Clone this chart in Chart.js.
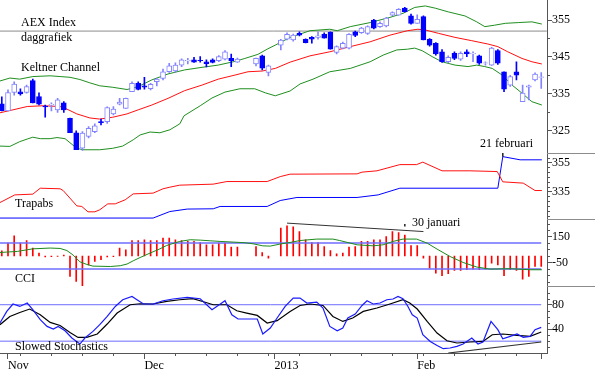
<!DOCTYPE html>
<html>
<head>
<meta charset="utf-8">
<script src="https://cdn.jsdelivr.net/npm/chart.js@4.4.0/dist/chart.umd.min.js"></script>
<style>
  html, body { margin: 0; padding: 0; background: #fff; }
  #wrap { position: relative; width: 595px; height: 372px; }
</style>
</head>
<body>
<div id="wrap"><canvas id="chart" width="595" height="372"></canvas></div>
<script>
// x = trading day index (0 = 31 Oct 2012), holidays left empty
const monthTicks = [1, 23, 44, 67, 87];
const monthLabels = ['Nov', 'Dec', '2013', 'Feb', ''];
const weekTicks = [3, 8, 13, 18, 28, 33, 38, 43, 48, 53, 58, 63, 68, 73, 78, 83];

// AEX daily candles
const openP = [332.3,330.4,335.4,335.6,335.4,338.6,334.3,331.7,332.0,330.7,
  332.6,328.4,324.5,320.3,323.5,324.8,327.5,327.5,329.6,332.2,
  331.1,335.6,337.9,337.2,336.4,338.3,339.2,341.0,341.2,342.8,
  343.9,344.2,344.1,343.7,344.2,344.0,344.4,344.6,343.6,null,
  null,343.1,345.3,340.8,null,348.2,349.8,349.6,351.4,349.8,
  350.3,350.3,351.1,351.7,346.2,347.4,347.4,351.8,351.6,351.4,
  355.0,353.2,353.4,356.3,356.3,358.2,356.1,354.1,355.9,349.8,
  348.7,346.4,343.7,346.0,344.4,346.4,345.8,345.3,343.3,342.8,
  346.7,341.0,337.4,341.0,332.9,336.8,338.8,339.5];
const highP = [334.2,336.1,338.3,336.4,337.4,339.0,335.3,332.0,332.6,333.8,
  332.9,328.5,325.0,324.8,326.2,326.9,328.2,331.5,331.6,333.8,
  333.9,338.3,338.3,339.5,337.9,339.2,341.7,343.3,343.4,344.5,
  344.6,344.9,345.1,344.2,344.5,345.4,346.7,345.8,344.7,null,
  null,344.7,345.5,342.8,null,349.8,351.5,351.2,351.8,349.9,
  350.5,351.8,351.5,351.8,348.0,349.0,351.3,352.0,353.0,353.4,
  355.2,354.5,355.7,357.2,358.1,358.4,356.6,356.4,356.1,350.0,
  348.9,347.0,345.3,346.4,346.4,346.9,346.4,345.5,343.7,347.6,
  347.0,341.0,340.0,343.7,337.4,337.4,340.7,340.8];
const lowP = [330.4,330.4,334.7,334.7,335.2,332.6,332.0,328.7,330.4,330.0,
  330.0,324.5,319.9,319.7,323.1,324.5,326.6,327.0,329.3,332.0,
  331.1,335.6,336.1,336.3,336.1,337.2,338.8,340.8,340.9,342.4,
  343.1,343.5,343.6,342.3,343.4,343.7,344.2,342.4,343.5,null,
  null,342.6,341.5,339.9,null,346.9,349.6,349.3,350.7,348.8,
  348.7,349.8,350.1,347.1,345.8,347.2,347.2,350.5,351.4,351.1,
  352.6,353.0,353.1,356.1,356.3,357.2,353.9,354.1,349.6,347.9,
  345.5,343.5,343.4,344.3,344.1,345.1,343.7,343.0,342.8,342.7,
  343.0,335.6,337.0,338.8,332.9,333.4,338.5,336.5];
const closeP = [330.5,335.4,337.7,335.0,337.0,332.6,332.2,331.5,332.2,333.4,
  330.7,324.5,319.9,324.4,325.7,326.4,327.2,331.3,330.9,332.8,
  333.8,337.9,336.2,336.8,337.6,339.0,341.0,342.6,342.8,344.2,
  344.1,343.6,344.0,343.2,343.5,345.1,346.4,344.0,344.4,null,
  null,344.6,342.0,342.6,null,349.6,351.1,350.9,350.9,348.9,
  349.8,350.7,350.1,347.1,347.8,348.7,351.1,350.8,352.8,353.2,
  352.8,354.1,355.5,357.0,357.9,357.2,354.1,355.2,349.6,348.2,
  345.8,343.7,344.9,344.6,346.0,345.8,346.0,343.3,343.4,347.4,
  343.3,336.3,339.7,340.1,335.2,337.2,340.4,339.6];

// Keltner channel [day, level]
const keltUpper = [[-0.3,338.5],[1.3,339.3],[2.9,339.0],[5.0,339.7],[7.8,339.9],[9.4,339.7],[11.0,339.5],
  [12.6,338.9],[14.2,338.0],[15.8,337.2],[17.9,336.8],[20.2,336.2],[22.0,337.0],[24.2,338.8],[26.8,340.4],
  [29.5,341.5],[32.3,342.2],[34.9,342.8],[37.6,343.8],[39.2,344.6],[41.3,345.7],[42.9,347.2],[44.1,348.2],
  [46.5,350.3],[49.7,352.1],[52.9,352.5],[54.1,352.1],[56.2,353.2],[59.4,354.3],[62.6,355.7],[64.7,356.8],
  [66.6,358.4],[68.3,358.8],[69.9,358.2],[72.0,357.2],[74.7,356.1],[76.6,354.5],[77.9,353.2],[79.5,353.6],
  [81.2,354.1],[83.3,354.3],[85.5,354.5],[87.1,353.9]];
const keltMiddle = [[-0.3,329.9],[1.8,330.7],[4.1,331.6],[6.6,331.8],[9.4,331.6],[10.5,330.9],[12.1,329.6],
  [14.2,328.5],[15.8,328.2],[17.9,328.7],[20.2,329.6],[22.0,330.7],[24.2,332.0],[26.8,333.8],[29.5,335.9],
  [32.3,337.4],[34.9,339.0],[37.6,340.1],[39.7,341.0],[42.0,341.2],[44.1,341.9],[46.5,343.6],[49.7,345.3],
  [52.9,346.4],[56.2,347.8],[59.4,349.1],[62.6,350.9],[65.4,352.1],[67.1,352.5],[68.3,352.3],[70.4,351.4],
  [73.1,350.3],[75.8,349.4],[78.4,348.5],[80.0,347.8],[81.6,346.4],[83.9,344.6],[85.5,343.7],[87.1,343.1]];
const keltLower = [[-0.3,320.9],[1.3,320.8],[2.9,322.1],[4.1,322.8],[5.0,323.3],[6.2,322.9],[7.8,322.9],
  [8.9,323.2],[10.2,322.9],[11.0,321.8],[12.1,320.3],[13.1,319.9],[15.8,319.9],[17.9,320.3],[19.5,320.9],
  [21.2,322.6],[22.3,323.9],[23.9,324.7],[25.5,324.5],[27.1,325.3],[28.7,326.9],[29.4,329.1],[32.0,331.8],
  [33.9,333.9],[36.0,335.5],[38.4,336.4],[40.8,336.4],[42.5,335.3],[44.1,334.5],[46.5,335.8],[48.1,337.7],
  [50.2,339.0],[52.9,341.0],[56.2,341.9],[59.4,343.7],[61.5,345.5],[63.7,346.9],[65.4,347.1],[66.6,347.4],
  [67.8,346.7],[69.4,345.1],[71.0,343.7],[73.1,342.8],[75.2,342.4],[76.6,342.8],[77.9,342.4],[79.1,341.9],
  [80.7,340.1],[82.3,337.4],[83.9,335.2],[85.5,332.9],[87.1,332.0]];
const resistance = [[-0.3,352.0],[87.9,352.0]];

// Trapabs
const trapRed = [[-0.3,327.4],[2.1,332.7],[5.0,333.2],[6.2,337.3],[9.4,336.9],[9.9,335.7],[12.1,325.1],
  [12.9,324.7],[13.9,321.0],[15.0,321.0],[15.8,322.4],[17.1,326.5],[18.3,326.5],[19.9,329.3],[21.2,333.4],
  [24.4,333.9],[26.0,336.9],[27.1,338.0],[28.7,339.4],[34.1,340.1],[36.3,341.9],[42.8,341.9],[44.9,345.3],
  [46.5,347.0],[57.3,347.2],[58.1,348.4],[60.5,349.3],[64.2,353.6],[66.9,353.6],[67.9,355.3],[71.0,349.3],
  [75.5,349.3],[79.9,348.8],[80.8,341.7],[84.1,340.8],[86.0,335.7],[87.1,335.7]];
const trapBlue = [[-0.3,316.7],[24.4,316.7],[27.1,321.2],[29.9,322.9],[34.1,323.1],[35.2,324.7],[42.8,324.7],
  [44.9,328.8],[47.6,330.9],[57.3,330.9],[60.7,332.7],[64.2,337.3],[80.0,337.3],[80.8,359.1],[83.6,356.9],
  [87.1,356.9]];
const feb21Mark = [[80.8,359.1],[80.8,361.6]];

// CCI
const cciBars = [40,99,155,99,119,61,22,-8,-5,-3,
  6,-158,-196,-229,-68,-42,-29,-8,-5,61,
  48,119,119,125,119,119,138,138,125,119,
  112,112,104,86,86,99,99,68,68,null,
  null,73,27,-16,null,215,232,225,188,125,
  104,104,73,42,17,22,68,73,112,112,
  125,125,150,188,181,160,81,81,-16,-93,
  -132,-152,-137,-111,-111,-106,-101,-106,-101,-55,
  -68,-152,-106,-111,-178,-158,-81,-81];
const cciAvg = [[-0.3,27],[2.5,35],[5.0,55],[7.8,61],[9.4,58],[10.5,42],[11.5,7],[12.6,-45],[13.7,-65],
  [14.7,-78],[17.5,-81],[19.1,-75],[20.2,-62],[21.2,-37],[22.3,-12],[23.9,22],[25.5,55],[26.6,81],[27.6,96],
  [28.7,112],[30.4,125],[32.0,122],[33.6,117],[35.2,112],[37.3,107],[39.2,102],[40.5,94],[42.1,78],[43.3,76],
  [44.9,92],[46.5,104],[48.1,119],[50.8,130],[53.4,130],[54.5,119],[57.3,86],[59.9,78],[61.5,86],[63.1,112],
  [64.7,130],[66.9,130],[68.6,99],[70.2,53],[72.3,-4],[74.4,-50],[76.6,-85],[78.7,-101],[82.0,-98],
  [85.2,-106],[87.1,-106]];
const cciTrend = [[46.0,253],[68.0,188]];
const jan30Mark = [[65.0,226],[65.0,247]];
const cciLevels = [100, -100];

// Slowed stochastics
const stochK = [[-0.3,49.9],[0.8,69.0],[1.8,81.2],[2.9,77.2],[4.1,82.8],[5.0,71.8],[6.2,55.3],[7.3,44.3],
  [8.3,40.0],[9.1,44.3],[10.2,37.2],[11.3,25.2],[12.6,15.3],[13.4,25.2],[14.7,36.1],[15.8,47.1],[17.0,60.7],
  [18.3,77.2],[19.5,88.2],[21.0,93.7],[21.8,88.2],[22.8,81.6],[24.4,81.2],[26.0,86.6],[27.6,89.4],[29.9,92.0],
  [32.0,89.9],[33.9,71.8],[34.9,78.8],[36.0,86.6],[37.1,63.5],[38.1,56.5],[41.2,56.5],[42.1,31.8],[43.3,41.6],
  [44.4,58.1],[45.7,77.2],[47.0,91.0],[48.1,91.0],[49.2,82.8],[50.8,84.4],[51.8,74.6],[52.9,44.3],[54.1,37.2],
  [55.0,41.6],[55.8,58.1],[57.0,64.7],[58.1,78.8],[58.9,86.6],[59.9,81.2],[61.0,82.8],[62.1,88.2],[63.1,89.4],
  [63.9,93.7],[64.7,89.9],[65.5,77.2],[66.2,63.5],[67.0,58.1],[67.9,30.6],[69.1,19.6],[70.2,13.0],[71.2,7.6],
  [72.3,8.7],[73.4,11.4],[74.4,15.3],[75.8,25.2],[76.8,15.3],[77.6,18.6],[78.9,52.5],[80.0,38.9],[80.8,24.0],
  [82.0,27.8],[83.1,31.8],[84.1,26.2],[85.2,27.8],[86.0,38.9],[87.0,42.6]];
const stochD = [[-0.3,47.1],[1.3,60.7],[2.9,67.3],[4.5,72.9],[6.2,63.5],[7.8,50.9],[9.4,45.9],[11.0,34.4],
  [12.3,26.2],[13.7,26.2],[15.4,31.8],[17.0,48.2],[18.6,66.3],[20.7,80.0],[22.3,81.6],[24.4,81.2],[26.6,85.4],
  [28.7,88.2],[30.8,89.9],[32.4,85.4],[34.1,80.0],[36.3,80.0],[37.9,70.1],[39.5,66.3],[41.2,62.4],[42.8,49.9],
  [44.4,53.7],[46.5,69.0],[48.1,78.8],[49.7,81.2],[51.8,78.8],[53.4,60.7],[55.0,52.5],[56.6,58.1],[58.3,69.0],
  [60.5,74.6],[62.6,81.2],[64.7,88.2],[65.8,82.8],[67.0,72.9],[68.6,52.5],[70.2,33.4],[71.8,20.7],[73.4,17.0],
  [75.5,18.6],[77.6,19.6],[79.1,30.6],[80.8,31.8],[83.1,29.5],[85.2,27.8],[87.0,35.1]];
const stochTrend = [[72.0,0.5],[87.0,18.6]];
const stochLevels = [80, 20];

// axis ticks
const priceTicks = [325, 335, 345, 355];
const trapTicks = [335, 355];
const cciTicks = [-50, 150];
const stochTicks = [40, 80];
const minorTicks = {
  x: weekTicks,
  yPrice: [330, 340, 350],
  yTrap: [318.33, 321.67, 325, 328.33, 331.67, 338.33, 341.67, 345, 348.33, 351.67, 358.33, 361.67],
  yCci: [-200, -150, -100, 0, 50, 100, 200, 250],
  yStoch: [10, 20, 30, 50, 60, 70, 90, 100]
};

const notes = [
  { text: 'AEX Index', panel: 'yPrice', dx: 21, dy: 26 },
  { text: 'daggrafiek', panel: 'yPrice', dx: 21, dy: 41 },
  { text: 'Keltner Channel', panel: 'yPrice', dx: 21, dy: 70.5 },
  { text: '21 februari', panel: 'yPrice', dx: 480, dy: 146.5 },
  { text: 'Trapabs', panel: 'yTrap', dx: 15, dy: 54.5 },
  { text: '30 januari', panel: 'yCci', dx: 412, dy: 6.5 },
  { text: 'CCI', panel: 'yCci', dx: 15, dy: 62.5 },
  { text: 'Slowed Stochastics', panel: 'yStoch', dx: 15, dy: 63.5 }
];

const SERIF = '"Liberation Serif", "DejaVu Serif", serif';
const BLUE = '#0000ff';
const LIGHT = '#8484ff';
const LEVEL = '#6c6cff';
const X_MIN = -0.29, X_MAX = 87.93;

const pts = arr => arr.map(p => ({ x: p[0], y: p[1] }));
const flat = (levels, i) => [{ x: X_MIN, y: levels[i] }, { x: 87.0, y: levels[i] }];

const wicks = [], bodies = [], wickCol = [], bodyFill = [], bodyLine = [];
openP.forEach((o, i) => {
  if (o === null) return;
  const c = closeP[i];
  const up = c >= o;
  wicks.push({ x: i, y: [lowP[i], highP[i]] });
  bodies.push({ x: i, y: [Math.min(o, c), Math.max(o, c)] });
  wickCol.push(up ? LIGHT : BLUE);
  bodyFill.push(up ? '#ffffff' : BLUE);
  bodyLine.push(up ? LIGHT : BLUE);
});
const cciData = [];
cciBars.forEach((v, i) => { if (v !== null) cciData.push({ x: i, y: v }); });

function line(data, axis, color, width, order) {
  return {
    type: 'line', data: data, yAxisID: axis, borderColor: color, borderWidth: width || 1,
    pointRadius: 0, tension: 0, fill: false, order: order || 5
  };
}

// keep the plot edge-to-edge: no label overflow padding
function noPad(s) { s.paddingTop = 0; s.paddingBottom = 0; s.paddingLeft = 0; s.paddingRight = 0; }

function yAxis(min, max, weight, ticks) {
  return {
    type: 'linear', position: 'right', stack: 'panels', stackWeight: weight,
    min: min, max: max,
    afterBuildTicks: s => { s.ticks = ticks.map(v => ({ value: v })); },
    afterFit: s => { s.width = 48; noPad(s); },
    ticks: { color: '#000', padding: 0, font: { family: SERIF, size: 12 } },
    grid: { drawOnChartArea: false, drawTicks: true, tickLength: 5, color: '#555' },
    border: { color: '#555' }
  };
}

const decor = {
  id: 'decor',
  afterDraw(chart) {
    const ctx = chart.ctx, s = chart.scales;
    ctx.save();
    ctx.lineWidth = 1;
    ctx.strokeStyle = '#555';
    ctx.beginPath();
    Object.keys(minorTicks).forEach(id => {
      const sc = s[id];
      minorTicks[id].forEach(v => {
        const p = Math.round(sc.getPixelForValue(v)) + 0.5;
        if (id === 'x') { ctx.moveTo(p, sc.top); ctx.lineTo(p, sc.top + 3); }
        else { ctx.moveTo(sc.left, p); ctx.lineTo(sc.left + 3, p); }
      });
    });
    ctx.stroke();
    ctx.strokeStyle = '#8c8c8c';
    ctx.beginPath();
    ['yPrice', 'yTrap', 'yCci'].forEach(id => {
      const y = Math.round(s[id].bottom) + 0.5;
      ctx.moveTo(s[id].left, y);
      ctx.lineTo(chart.width, y);
    });
    ctx.stroke();
    ctx.fillStyle = '#000';
    ctx.font = '12px ' + SERIF;
    ctx.textBaseline = 'alphabetic';
    notes.forEach(n => ctx.fillText(n.text, chart.chartArea.left + n.dx, s[n.panel].top + n.dy));
    ctx.restore();
  }
};

new Chart(document.getElementById('chart'), {
  type: 'bar',
  data: {
    datasets: [
      { type: 'bar', data: bodies, yAxisID: 'yPrice', backgroundColor: bodyFill, borderColor: bodyLine,
        borderWidth: 1, borderSkipped: false, barThickness: 5, grouped: false, order: 1 },
      { type: 'bar', data: wicks, yAxisID: 'yPrice', backgroundColor: wickCol, borderWidth: 0,
        barThickness: 1, grouped: false, order: 2 },
      line(pts(keltUpper), 'yPrice', '#1f8f1f'),
      line(pts(keltMiddle), 'yPrice', '#ff1010'),
      line(pts(keltLower), 'yPrice', '#1f8f1f'),
      line(pts(resistance), 'yPrice', '#8c8c8c'),
      line(pts(trapRed), 'yTrap', '#ff1010'),
      line(pts(trapBlue), 'yTrap', '#0000ff'),
      line(pts(feb21Mark), 'yTrap', '#222222', 1.5, 4),
      { type: 'bar', data: cciData, yAxisID: 'yCci', backgroundColor: '#ff0000', borderWidth: 0,
        barThickness: 1, grouped: false, order: 6 },
      line(flat(cciLevels, 0), 'yCci', LEVEL, 1.5),
      line(flat(cciLevels, 1), 'yCci', LEVEL, 1.5),
      line(pts(cciAvg), 'yCci', '#1a8a1a', 1, 4),
      line(pts(cciTrend), 'yCci', '#333333', 1, 4),
      line(pts(jan30Mark), 'yCci', '#222222', 1.5, 4),
      line(flat(stochLevels, 0), 'yStoch', LEVEL),
      line(flat(stochLevels, 1), 'yStoch', LEVEL),
      line(pts(stochD), 'yStoch', '#000000', 1.2, 4),
      line(pts(stochK), 'yStoch', '#1a1aff', 1.2, 3),
      line(pts(stochTrend), 'yStoch', '#333333', 1.2, 3)
    ]
  },
  options: {
    responsive: false,
    animation: false,
    events: [],
    layout: { padding: 0 },
    plugins: { legend: { display: false }, tooltip: { enabled: false } },
    scales: {
      x: {
        type: 'linear', position: 'bottom', min: X_MIN, max: X_MAX, offset: false,
        afterBuildTicks: s => { s.ticks = monthTicks.map(v => ({ value: v })); },
        afterFit: s => { s.height = 19; noPad(s); },
        ticks: {
          autoSkip: false, maxRotation: 0, align: 'start', padding: 0, color: '#000',
          font: { family: SERIF, size: 12 },
          callback: (v, i) => monthLabels[i]
        },
        grid: { drawOnChartArea: false, drawTicks: true, tickLength: 6, color: '#555', offset: false },
        border: { color: '#555' }
      },
      yPrice: yAxis(319.14, 360.41, 152.7, priceTicks),
      yTrap: yAxis(315.97, 361.9, 66.6, trapTicks),
      yCci: yAxis(-234.6, 283.8, 67.4, cciTicks),
      yStoch: yAxis(0.5, 110.1, 66.6, stochTicks)
    }
  },
  plugins: [decor]
});
</script>
</body>
</html>
